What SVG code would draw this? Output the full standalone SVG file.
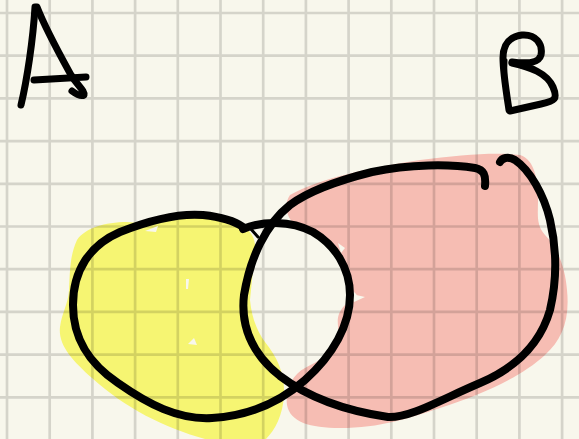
<svg xmlns="http://www.w3.org/2000/svg" width="579" height="439" viewBox="0 0 579 439">
  <style>
    .ink { fill: none; stroke: #000; stroke-linecap: round; stroke-linejoin: round; }
    .loop { stroke-width: 8; }
    .letter { stroke-width: 7; }
    .grid { fill: none; stroke: #000; stroke-opacity: 0.14; stroke-width: 2.7; }
    .speck { fill: #f8f7ec; }
  </style>
  <rect width="579" height="439" fill="#f8f7ec"/>

  <g id="fills">
    <path id="fill-A" fill="#f6f572" d="M77,240 C85,228 105,222 127,222 C140,222 150,228 160,222 C180,216 220,214 243,226 C252,232 256,240 255,250 L250,300 C252,320 258,332 265,342 C278,358 285,375 284,395 C283,415 275,430 266,439 L205,439 C165,428 125,408 92,378 C72,360 58,345 60,327 C62,312 68,305 69,290 C70,270 70,255 77,240 Z"/>
    <path id="fill-B" fill="#f6bdb3" d="M290,195 C320,178 370,168 420,160 C460,155 495,152 520,155 C535,160 538,180 538,200 C538,215 536,225 545,235 C556,246 565,265 567,290 C570,320 562,340 545,355 C520,378 480,395 440,408 C410,418 380,428 340,428 C310,428 290,422 287,405 C285,390 292,375 305,368 C320,360 336,352 338,338 C340,325 333,318 345,305 C352,300 362,298 354,292 C344,284 346,268 340,255 C334,240 315,232 297,226 C287,220 283,205 290,195 Z"/>
  </g>

  <path class="grid" d="M7,0V439 M49.7,0V439 M92.4,0V439 M135.1,0V439 M177.8,0V439 M220.5,0V439 M263.2,0V439 M305.9,0V439 M348.6,0V439 M391.3,0V439 M434,0V439 M476.7,0V439 M519.4,0V439 M562.1,0V439 M0,13H579 M0,55.7H579 M0,98.4H579 M0,141.1H579 M0,183.8H579 M0,226.5H579 M0,269.2H579 M0,311.9H579 M0,354.6H579 M0,397.3H579"/>

  <g id="specks">
    <path class="speck" d="M186,279 L189,279 L188,289 L186,289 Z"/>
    <path class="speck" d="M188,344 L194,338 L197,345 Z"/>
    <path class="speck" d="M145,231 L158,226 L156,232 Z"/>
    <path class="speck" d="M338,243 L345,248 L341,253 Z"/>
    <path class="speck" d="M352,294 L365,297 L354,302 Z"/>
  </g>

  <g id="node-A">
    <path class="ink loop" d="M243,229 C262,221 290,220 313,232 C335,245 350,268 350,295 C350,325 333,355 305,380 C280,402 250,416 212,418 C178,420 148,404 118,383 C90,364 73,340 73,305 C73,270 90,245 120,232 C150,220 178,213 203,215 C222,217 236,222 243,227"/>
    <path class="ink" stroke-width="3" d="M250,228 L258,237"/>
    <g id="label-A">
      <path class="ink letter" d="M21,105 C27,80 33,40 35,7"/>
      <path class="ink letter" d="M37,7 C46,30 60,55 71,75 C78,86 85,91 84,95 C81,97 76,94 72,91"/>
      <path class="ink letter" stroke-width="5" d="M34,80 L86,77"/>
    </g>
  </g>

  <g id="node-B">
    <path class="ink loop" d="M485,186 C486,175 484,170 475,168 C450,164 410,164 372,172 C340,180 310,190 290,205 C266,224 250,258 244,295 C240,330 255,356 280,376 C305,395 340,410 388,417 C410,418 440,400 480,383 C515,368 540,345 550,310 C557,280 557,250 550,220 C544,195 530,170 515,160 C508,156 502,158 500,162"/>
    <g id="label-B">
      <path class="ink letter" d="M509,110 C506,90 503,72 503,58 C503,44 509,37 522,35 C536,34 543,44 541,55 C539,63 528,64 512,62"/>
      <path class="ink letter" d="M512,63 C530,67 547,73 553,87 C558,99 555,101 541,104 L510,111"/>
      <path class="ink" stroke-width="3" d="M506,60 C505,80 506,95 508,108"/>
    </g>
  </g>

  <g id="connectors"/>
</svg>
